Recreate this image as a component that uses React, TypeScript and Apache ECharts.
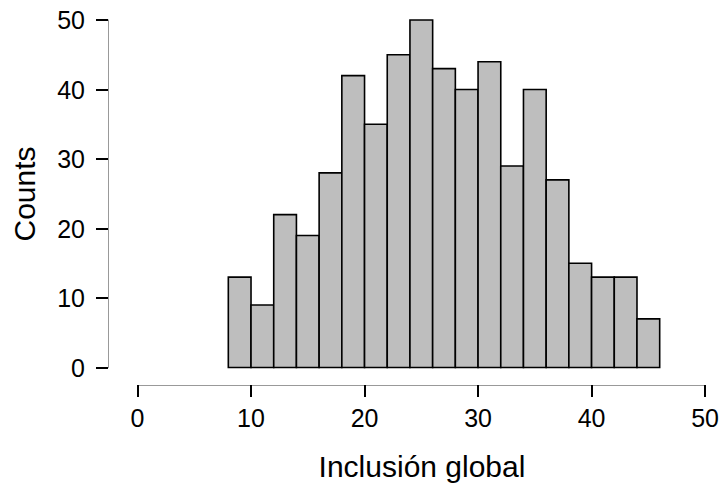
import React, { useEffect, useRef } from "react";
import * as echarts from "echarts";

const binStarts = [8, 10, 12, 14, 16, 18, 20, 22, 24, 26, 28, 30, 32, 34, 36, 38, 40, 42, 44];
const binWidth = 2;
const counts = [13, 9, 22, 19, 28, 42, 35, 45, 50, 43, 40, 44, 29, 40, 27, 15, 13, 13, 7];
const xTitle = "Inclusión global";
const yTitle = "Counts";

const FONT = "'Liberation Sans', Arial, Helvetica, sans-serif";

export default function App() {
  const ref = useRef<HTMLDivElement>(null);
  useEffect(() => {
    if (!ref.current) return;
    const chart = echarts.init(ref.current, null, { renderer: "svg" });
    const data = binStarts.map((s, i) => [s, s + binWidth, counts[i]]);
    chart.setOption({
      animation: false,
      backgroundColor: "#ffffff",
      grid: { left: 137.5, right: 15.3, top: 20, bottom: 117.5, containLabel: false },
      xAxis: {
        type: "value",
        min: 0,
        max: 50,
        interval: 10,
        offset: 17.5,
        axisLine: { show: true, onZero: false, lineStyle: { color: "#999", width: 1 } },
        axisTick: { show: true, length: 12, lineStyle: { color: "#000", width: 2 } },
        axisLabel: { margin: 20, fontSize: 25, color: "#000", fontFamily: FONT },
        splitLine: { show: false },
      },
      yAxis: {
        type: "value",
        min: 0,
        max: 50,
        interval: 10,
        offset: 29.5,
        axisLine: { show: true, onZero: false, lineStyle: { color: "#999", width: 1 } },
        axisTick: { show: true, length: 12, lineStyle: { color: "#000", width: 2 } },
        axisLabel: { margin: 23, fontSize: 25, color: "#000", fontFamily: FONT },
        splitLine: { show: false },
      },
      graphic: [
        {
          type: "text",
          x: 422,
          y: 466,
          style: {
            text: xTitle,
            fontSize: 30,
            fontFamily: FONT,
            fill: "#000",
            align: "center",
            verticalAlign: "middle",
          },
        },
        {
          type: "text",
          x: 24,
          y: 194,
          rotation: Math.PI / 2,
          style: {
            text: yTitle,
            fontSize: 30,
            fontFamily: FONT,
            fill: "#000",
            align: "center",
            verticalAlign: "middle",
          },
        },
      ],
      series: [
        {
          type: "custom",
          data,
          encode: { x: [0, 1], y: 2 },
          renderItem: (params: any, api: any) => {
            const x0 = api.value(0);
            const x1 = api.value(1);
            const c = api.value(2);
            const p0 = api.coord([x0, c]);
            const p1 = api.coord([x1, 0]);
            return {
              type: "rect",
              shape: { x: p0[0], y: p0[1], width: p1[0] - p0[0], height: p1[1] - p0[1] },
              style: { fill: "#bebebe", stroke: "#000", lineWidth: 1.6 },
            };
          },
        },
      ],
    });
    return () => chart.dispose();
  }, []);
  return (
    <div
      ref={ref}
      style={{ position: "fixed", left: 0, top: 0, width: 722, height: 485 }}
    />
  );
}
